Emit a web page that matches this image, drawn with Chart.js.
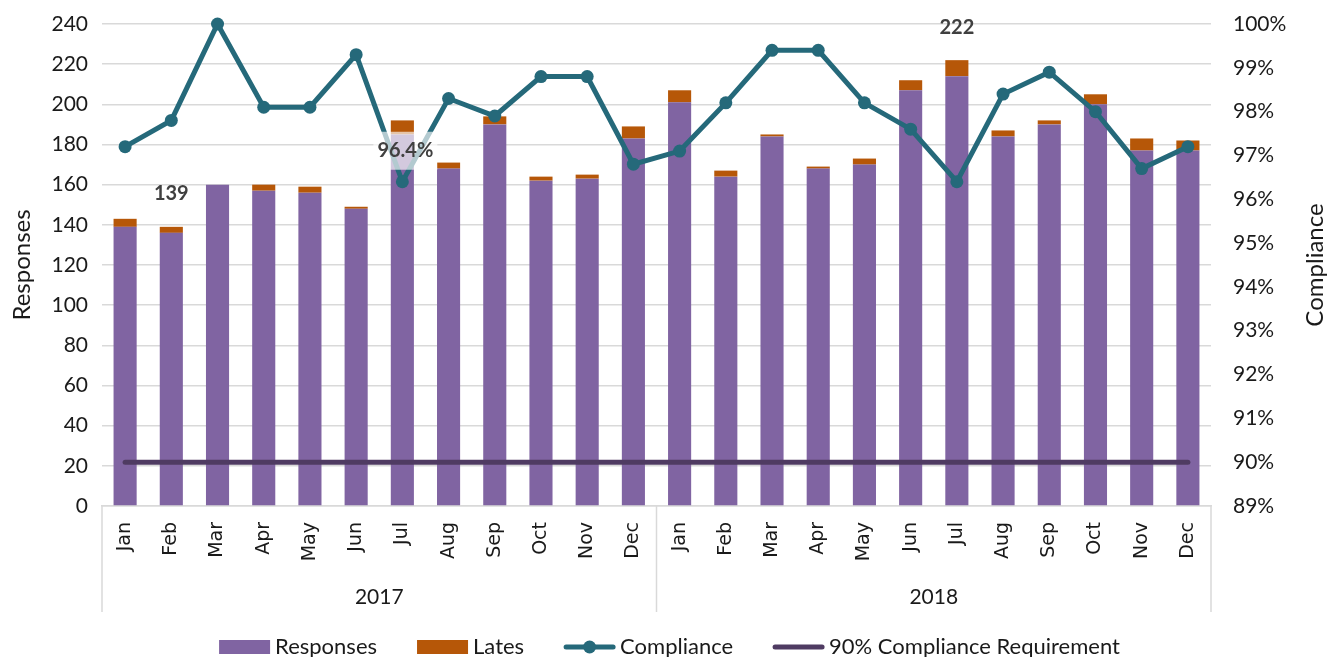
<!DOCTYPE html>
<html>
<head>
<meta charset="utf-8">
<script src="https://cdn.jsdelivr.net/npm/chart.js@4.4.1/dist/chart.umd.min.js"></script>
<style>
  html, body { margin: 0; padding: 0; background: #fff; }
  #wrap { width: 1339px; height: 657px; position: relative; }
</style>
</head>
<body>
<div id="wrap"><canvas id="chart"></canvas></div>
<script>
// Monthly responses / lates with compliance rate, 2017–2018
const months = ['Jan', 'Feb', 'Mar', 'Apr', 'May', 'Jun', 'Jul', 'Aug', 'Sep', 'Oct', 'Nov', 'Dec'];
const years = ['2017', '2018'];
const responses = [139, 136, 160, 157, 156, 148, 185, 168, 190, 162, 163, 183,
                   201, 164, 184, 168, 170, 207, 214, 184, 190, 200, 177, 177];
const lates = [4, 3, 0, 3, 3, 1, 7, 3, 4, 2, 2, 6,
               6, 3, 1, 1, 3, 5, 8, 3, 2, 5, 6, 5];
const compliance = [97.2, 97.8, 100, 98.1, 98.1, 99.3, 96.4, 98.3, 97.9, 98.8, 98.8, 96.8,
                    97.1, 98.2, 99.4, 99.4, 98.2, 97.6, 96.4, 98.4, 98.9, 98.0, 96.7, 97.2];
const requirement = [90, 90, 90, 90, 90, 90, 90, 90, 90, 90, 90, 90,
                     90, 90, 90, 90, 90, 90, 90, 90, 90, 90, 90, 90];
// points that carry a value label
const totalLabelIdx = [1, 18];
const complianceLabelIdx = [6];

const labels = years.flatMap(() => months);

const PURPLE = '#8064A2';
const ORANGE = '#B65708';
const TEAL = '#25697A';
const DARK = '#4F3B62';
const GRID = '#D9D9D9';
const TEXT = '#1a1a1a';
const FONT = 'Lato, "Open Sans", sans-serif';

// Year groups under the month ticks, with separators
const yearGroups = {
    id: 'yearGroups',
    afterDraw(chart) {
        const { ctx, chartArea } = chart;
        const x = chart.scales.x;
        const bottom = chartArea.bottom;
        const seps = [chartArea.left, (x.getPixelForValue(11) + x.getPixelForValue(12)) / 2, chartArea.right];
        ctx.save();
        ctx.strokeStyle = GRID;
        ctx.lineWidth = 1.5;
        seps.forEach(px => {
            ctx.beginPath();
            ctx.moveTo(px, bottom);
            ctx.lineTo(px, 612);
            ctx.stroke();
        });
        ctx.fillStyle = TEXT;
        ctx.font = `21px ${FONT}`;
        ctx.textAlign = 'center';
        ctx.textBaseline = 'middle';
        years.forEach((yr, i) => {
            const cx = (x.getPixelForValue(i * 12) + x.getPixelForValue(i * 12 + 11)) / 2;
            ctx.fillText(yr, cx, 597);
        });
        ctx.restore();
    }
};

// Value labels: stacked totals and one compliance point
const valueLabels = {
    id: 'valueLabels',
    afterDatasetsDraw(chart) {
        const { ctx } = chart;
        const latesMeta = chart.getDatasetMeta(1);
        const compMeta = chart.getDatasetMeta(2);
        ctx.save();
        ctx.font = `bold 20px ${FONT}`;
        ctx.fillStyle = '#404040';
        ctx.textAlign = 'center';
        ctx.textBaseline = 'middle';
        totalLabelIdx.forEach(i => {
            const el = latesMeta.data[i];
            ctx.fillText(String(responses[i] + lates[i]), el.x, el.y - 33);
        });
        complianceLabelIdx.forEach(i => {
            const el = compMeta.data[i];
            const txt = compliance[i].toFixed(1) + '%';
            const w = ctx.measureText(txt).width;
            const cx = el.x + 3, cy = el.y - 31;
            ctx.fillStyle = 'rgba(255,255,255,0.65)';
            ctx.fillRect(cx - w / 2 - 4, cy - 19, w + 8, 38);
            ctx.fillStyle = '#404040';
            ctx.fillText(txt, cx, cy);
        });
        ctx.restore();
    }
};

// Right-hand axis title (reads bottom to top) and bottom legend
const extras = {
    id: 'extras',
    afterDraw(chart) {
        const { ctx, chartArea } = chart;
        ctx.save();
        ctx.fillStyle = TEXT;
        ctx.font = `24px ${FONT}`;
        ctx.textAlign = 'center';
        ctx.textBaseline = 'middle';
        ctx.translate(1315, (chartArea.top + chartArea.bottom) / 2);
        ctx.rotate(-Math.PI / 2);
        ctx.fillText('Compliance', 0, 0);
        ctx.restore();

        const items = [
            { text: 'Responses', kind: 'box', color: PURPLE },
            { text: 'Lates', kind: 'box', color: ORANGE },
            { text: 'Compliance', kind: 'marker', color: TEAL },
            { text: '90% Compliance Requirement', kind: 'line', color: DARK },
        ];
        const symW = 51, gapSym = 5, gapItem = 40, cy = 647;
        ctx.save();
        ctx.font = `22px ${FONT}`;
        const widths = items.map(it => ctx.measureText(it.text).width);
        const total = widths.reduce((a, w) => a + symW + gapSym + w, 0) + gapItem * (items.length - 1);
        let x = (chart.width - total) / 2;
        ctx.textBaseline = 'middle';
        items.forEach((it, i) => {
            if (it.kind === 'box') {
                ctx.fillStyle = it.color;
                ctx.fillRect(x, cy - 7, symW, 14);
            } else {
                ctx.strokeStyle = it.color;
                ctx.lineWidth = 5;
                ctx.lineCap = 'round';
                ctx.beginPath();
                ctx.moveTo(x + 2, cy);
                ctx.lineTo(x + symW - 2, cy);
                ctx.stroke();
                if (it.kind === 'marker') {
                    ctx.fillStyle = it.color;
                    ctx.beginPath();
                    ctx.arc(x + symW / 2, cy, 6.5, 0, Math.PI * 2);
                    ctx.fill();
                }
            }
            ctx.fillStyle = TEXT;
            ctx.textAlign = 'left';
            ctx.fillText(it.text, x + symW + gapSym, cy);
            x += symW + gapSym + widths[i] + gapItem;
        });
        ctx.restore();
    }
};

new Chart(document.getElementById('chart'), {
    data: {
        labels,
        datasets: [
            { type: 'bar', label: 'Responses', data: responses, backgroundColor: PURPLE,
              yAxisID: 'y', stack: 's', order: 3, barPercentage: 0.5, categoryPercentage: 1 },
            { type: 'bar', label: 'Lates', data: lates, backgroundColor: ORANGE,
              yAxisID: 'y', stack: 's', order: 3, barPercentage: 0.5, categoryPercentage: 1 },
            { type: 'line', label: 'Compliance', data: compliance, yAxisID: 'y2', order: 1,
              borderColor: TEAL, backgroundColor: TEAL, borderWidth: 5, pointRadius: 6.5,
              pointHoverRadius: 6.5, pointBorderWidth: 0, tension: 0, clip: false },
            { type: 'line', label: '90% Compliance Requirement', data: requirement, yAxisID: 'y2', order: 2,
              borderColor: DARK, borderWidth: 5, pointRadius: 0, borderCapStyle: 'round' },
        ],
    },
    options: {
        responsive: true, maintainAspectRatio: false, animation: false,
        layout: { padding: { top: 24, left: 0, right: 0, bottom: 0 }, autoPadding: false },
        plugins: { legend: { display: false }, tooltip: { enabled: false } },
        scales: {
            x: {
                stacked: true,
                grid: { display: false },
                border: { display: true, color: GRID, width: 1.5 },
                ticks: { autoSkip: false, minRotation: 90, maxRotation: 90, padding: 8,
                         color: TEXT, font: { family: '"DejaVu Sans", sans-serif', size: 19 } },
                afterFit: s => { s.height = 151; s.paddingLeft = 0; s.paddingRight = 0; },
            },
            y: {
                position: 'left', stacked: true, min: 0, max: 240,
                ticks: { stepSize: 20, padding: 14, color: TEXT, font: { family: FONT, size: 21 } },
                grid: { color: GRID, lineWidth: 1.5, drawTicks: false },
                border: { display: false },
                title: { display: true, text: 'Responses', color: TEXT, padding: { top: 8, bottom: 0 },
                         font: { family: FONT, size: 24 } },
                afterFit: s => { s.width = 102; s.paddingTop = 0; s.paddingBottom = 0; },
            },
            y2: {
                position: 'right', min: 89, max: 100,
                ticks: { stepSize: 1, padding: 22, color: TEXT, font: { family: FONT, size: 21 },
                         callback: v => v + '%' },
                grid: { display: false, drawTicks: false },
                border: { display: false },
                afterFit: s => { s.width = 128; s.paddingTop = 0; s.paddingBottom = 0; },
            },
        },
    },
    plugins: [yearGroups, valueLabels, extras],
});
</script>
</body>
</html>
